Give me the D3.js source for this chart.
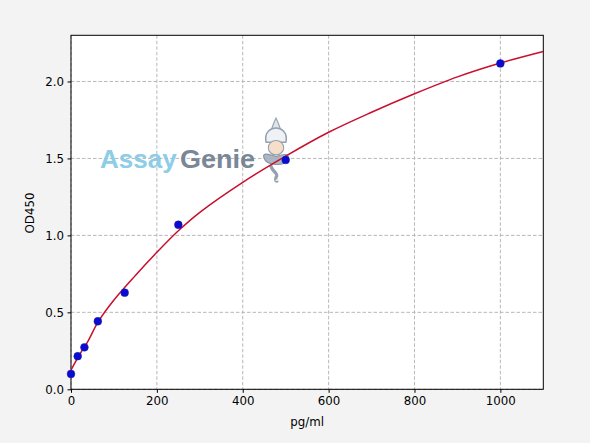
<!DOCTYPE html>
<html>
<head>
<meta charset="utf-8">
<script src="https://cdn.jsdelivr.net/npm/d3@7"></script>
<style>
  body { margin: 0; background: #f3f3f3; }
  svg { display: block; }
</style>
</head>
<body>
<div id="chart"></div>
<script>
// standard concentrations (pg/ml) and measured OD450
const conc = [0, 15.6, 31.25, 62.5, 125, 250, 500, 1000];
const od = [0.10, 0.215, 0.273, 0.442, 0.628, 1.069, 1.49, 2.117];

// fitted curve
const curveX = [0, 20, 40, 62.5, 100, 150, 200, 250, 300, 400, 500, 600, 700, 800, 900, 1000, 1100];
const curveY = [0.125, 0.225, 0.315, 0.435, 0.58, 0.74, 0.89, 1.03, 1.15, 1.345, 1.515, 1.67, 1.80, 1.92, 2.03, 2.12, 2.195];

const xTicks = [0, 200, 400, 600, 800, 1000];
const yTicks = [0.0, 0.5, 1.0, 1.5, 2.0];

const W = 590, H = 443;
const margin = {left: 71, top: 35.3, right: 46.7, bottom: 53.7};
const w = W - margin.left - margin.right,
      h = H - margin.top - margin.bottom;
const baseFont = '"DejaVu Sans", sans-serif';

const svg = d3.select('#chart').append('svg')
    .attr('width', W)
    .attr('height', H);

svg.append('rect')
    .attr('width', W).attr('height', H)
    .attr('fill', '#f3f3f3');

const g = svg.append('g')
    .attr('transform', `translate(${margin.left},${margin.top})`);

const x = d3.scaleLinear().domain([0, 1100]).range([0, w]);
const y = d3.scaleLinear().domain([0, 2.3]).range([h, 0]);

g.append('rect')
    .attr('width', w).attr('height', h)
    .attr('fill', '#fff');

// grid
g.selectAll('.vgrid')
    .data(xTicks)
    .enter().append('line')
    .attr('x1', d => x(d)).attr('x2', d => x(d))
    .attr('y1', 0).attr('y2', h)
    .attr('stroke', '#b0b0b0')
    .attr('stroke-width', 0.9)
    .attr('stroke-dasharray', '3.5,2');

g.selectAll('.hgrid')
    .data(yTicks)
    .enter().append('line')
    .attr('x1', 0).attr('x2', w)
    .attr('y1', d => y(d)).attr('y2', d => y(d))
    .attr('stroke', '#b0b0b0')
    .attr('stroke-width', 0.9)
    .attr('stroke-dasharray', '3.5,2');

// watermark, placed in page pixels, under the data
const wm = g.append('g')
    .attr('transform', `translate(${-margin.left},${-margin.top})`)
    .attr('opacity', 0.92);
wm.append('text')
    .attr('x', 100).attr('y', 168)
    .style('font-family', '"Liberation Sans", Arial, sans-serif')
    .style('font-weight', 'bold')
    .style('font-size', '26px')
    .attr('fill', '#84c9e6')
    .text('Assay');
wm.append('text')
    .attr('x', 180).attr('y', 168)
    .style('font-family', '"Liberation Sans", Arial, sans-serif')
    .style('font-weight', 'bold')
    .style('font-size', '26px')
    .attr('textLength', 75)
    .attr('lengthAdjust', 'spacingAndGlyphs')
    .attr('fill', '#6f7d8e')
    .text('Genie');

// little genie figure
const gn = wm.append('g').attr('transform', 'translate(276,118) scale(1.1)');
gn.append('path')
    .attr('d', 'M0,0 C2,4 3,7 4,10 L-4,10 C-3,7 -2,4 0,0 Z')
    .attr('fill', '#dde3ea').attr('stroke', '#8d9aab').attr('stroke-width', 1);
gn.append('path')
    .attr('d', 'M-9,22 C-11,12 -4,9 0,9 C4,9 11,12 9,22 Z')
    .attr('fill', '#eef1f5').attr('stroke', '#8d9aab').attr('stroke-width', 1.4);
gn.append('ellipse')
    .attr('cx', 0).attr('cy', 27).attr('rx', 7).attr('ry', 6.5)
    .attr('fill', '#f6dcc4').attr('stroke', '#8d9aab').attr('stroke-width', 1);
gn.append('path')
    .attr('d', 'M-11,36 C-13,31 -6,33 0,35 C6,33 13,31 11,38 C9,44 -9,44 -11,36 Z')
    .attr('fill', '#a6b1be').attr('stroke', '#7f8c9c').attr('stroke-width', 1);
gn.append('path')
    .attr('d', 'M-5,43 C-3,50 3,50 0,54 C-1,57 1,58 1,57')
    .attr('fill', 'none').attr('stroke', '#8d9aab').attr('stroke-width', 3);

// axes box
g.append('rect')
    .attr('width', w).attr('height', h)
    .attr('fill', 'none')
    .attr('stroke', '#000')
    .attr('stroke-width', 1);

const xAxis = g.append('g')
    .attr('transform', `translate(0,${h})`)
    .call(d3.axisBottom(x).tickValues(xTicks).tickSize(3.5).tickPadding(3.5).tickFormat(d3.format('d')));
const yAxis = g.append('g')
    .call(d3.axisLeft(y).tickValues(yTicks).tickSize(3.5).tickPadding(3.5).tickFormat(d3.format('.1f')));

[xAxis, yAxis].forEach(a => {
    a.select('.domain').remove();
    a.selectAll('text')
        .attr('font-family', baseFont)
        .attr('font-size', 11.8)
        .attr('fill', '#000');
    a.selectAll('line').attr('stroke', '#000');
});

// labels
svg.append('text')
    .attr('x', margin.left + w / 2)
    .attr('y', 426)
    .attr('text-anchor', 'middle')
    .attr('font-family', baseFont)
    .attr('font-size', 11.8)
    .text('pg/ml');

svg.append('text')
    .attr('transform', 'translate(33.5,213) rotate(-90)')
    .attr('text-anchor', 'middle')
    .attr('font-family', baseFont)
    .attr('font-size', 11.8)
    .text('OD450');

// clip for the curve
g.append('clipPath').attr('id', 'clip')
    .append('rect').attr('width', w).attr('height', h);

const line = d3.line()
    .x(d => x(d[0]))
    .y(d => y(d[1]))
    .curve(d3.curveCatmullRom.alpha(0.5));

g.append('path')
    .datum(curveX.map((v, i) => [v, curveY[i]]))
    .attr('clip-path', 'url(#clip)')
    .attr('d', line)
    .attr('fill', 'none')
    .attr('stroke', '#c8102e')
    .attr('stroke-width', 1.5);

g.selectAll('.pt')
    .data(conc.map((v, i) => [v, od[i]]))
    .enter().append('circle')
    .attr('cx', d => x(d[0]))
    .attr('cy', d => y(d[1]))
    .attr('r', 3.9)
    .attr('fill', '#0a0ad0')
    .attr('stroke', '#2020a0')
    .attr('stroke-width', 0.5);
</script>
</body>
</html>
